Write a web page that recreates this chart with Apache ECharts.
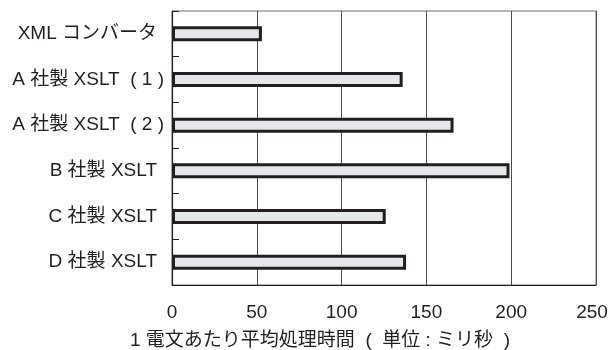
<!DOCTYPE html>
<html>
<head>
<meta charset="utf-8">
<script src="https://cdn.jsdelivr.net/npm/echarts@6/dist/echarts.min.js"></script>
<style>
  html, body { margin: 0; padding: 0; background: #fff; }
  #chart { width: 610px; height: 350px; }
</style>
</head>
<body>
<div id="chart"></div>
<script>
// Average processing time per message for each converter
const categories = [
  'XML コンバータ',
  'A 社製 XSLT  ( 1 )',
  'A 社製 XSLT  ( 2 )',
  'B 社製 XSLT',
  'C 社製 XSLT',
  'D 社製 XSLT'
];
const avgTimeMs = [53, 136, 166, 199, 126, 138];
const xTicks = [0, 50, 100, 150, 200, 250];
const xAxisTitle = '1 電文あたり平均処理時間  (  単位 : ミリ秒  )';

const FONT = '"Liberation Sans", Arial, "Noto Sans CJK JP", sans-serif';
const INK = '#231f20';
const X_MAX = xTicks[xTicks.length - 1];

// labels ending in a parenthesis sit a little closer to the axis
const categoryItems = categories.map(name => ({
  value: name,
  textStyle: { padding: /\)$/.test(name) ? [0, 0, 0, 0] : [0, 7, 0, 0] }
}));

const chart = echarts.init(document.getElementById('chart'), null, { renderer: 'canvas' });
chart.setOption({
  animation: false,
  backgroundColor: '#ffffff',
  grid: {
    left: 172, right: 14, top: 11, bottom: 65,
    outerBoundsMode: 'none',
    containLabel: false,
    show: true, borderColor: '#6d6e71', borderWidth: 1
  },
  xAxis: {
    type: 'value',
    min: xTicks[0],
    max: X_MAX,
    interval: 50,
    axisLine: { show: true, lineStyle: { color: INK, width: 1.2 } },
    axisTick: { show: false },
    splitLine: { show: true, lineStyle: { color: '#4d4d4f', width: 1 } },
    axisLabel: {
      color: INK, fontSize: 19, fontFamily: FONT, margin: 18,
      // keep the last tick label inside the canvas
      formatter: v => (v === X_MAX ? '{edge|' + v + '}' : String(v)),
      rich: { edge: { color: INK, fontSize: 19, fontFamily: FONT, padding: [0, 8, 0, 0] } }
    },
    name: xAxisTitle,
    nameLocation: 'middle',
    nameGap: 46,
    nameTextStyle: { color: INK, fontSize: 19, fontFamily: FONT, padding: [0, 128, 0, 0] }
  },
  yAxis: {
    type: 'category',
    data: categoryItems,
    inverse: true,
    axisLine: { show: true, lineStyle: { color: INK, width: 1.2 } },
    axisTick: { show: true, inside: true, length: 7, lineStyle: { color: INK, width: 1 } },
    splitLine: { show: false },
    axisLabel: { color: INK, fontSize: 19, fontFamily: FONT, margin: 8 }
  },
  series: [{
    type: 'bar',
    data: avgTimeMs,
    barWidth: 15,
    itemStyle: { color: '#e6e7e8', borderColor: INK, borderWidth: 3 }
  }]
});
</script>
</body>
</html>
